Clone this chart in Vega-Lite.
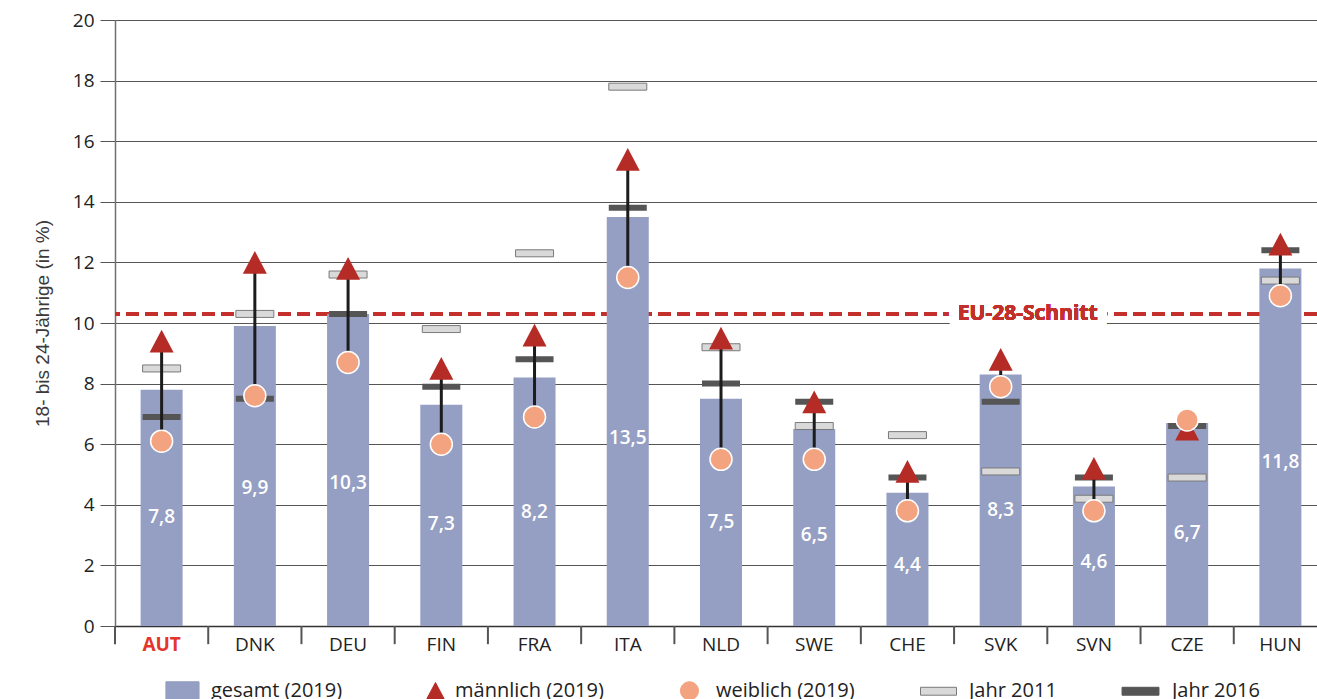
{
  "$schema": "https://vega.github.io/schema/vega-lite/v6.json",
  "width": 1202,
  "height": 606,
  "autosize": "none",
  "padding": {"left": 115, "top": 20, "right": 0, "bottom": 73},
  "config": {
    "view": {"stroke": null},
    "locale": {"number": {"decimal": ",", "thousands": ".", "grouping": [3], "currency": ["", " €"]}},
    "font": "Open Sans",
    "axisX": {
      "domainColor": "#333333", "domainWidth": 1.5, "ticks": false,
      "labelFontSize": 19, "labelPadding": 9, "labelFont": "Open Sans", "labelAngle": 0, "labelColor": "#222222", "grid": false, "title": null
    },
    "axisY": {
      "domainColor": "#707070", "domainWidth": 1.5, "tickColor": "#555555", "tickSize": 15, "tickWidth": 1,
      "labelFontSize": 19, "labelPadding": 6, "labelColor": "#222222", "labelFont": "Open Sans",
      "grid": true, "gridColor": "#555555", "gridWidth": 1,
      "titleFont": "Liberation Sans", "titleFontSize": 19, "titleFontWeight": "normal", "titleColor": "#3a3a3a", "titlePadding": 20
    }
  },
  "data": {
    "values": [
      {"land": "AUT", "gesamt": 7.8, "m": 9.4, "w": 6.1, "j2011": 8.5, "j2016": 6.9},
      {"land": "DNK", "gesamt": 9.9, "m": 12.0, "w": 7.6, "j2011": 10.3, "j2016": 7.5},
      {"land": "DEU", "gesamt": 10.3, "m": 11.8, "w": 8.7, "j2011": 11.6, "j2016": 10.3},
      {"land": "FIN", "gesamt": 7.3, "m": 8.5, "w": 6.0, "j2011": 9.8, "j2016": 7.9},
      {"land": "FRA", "gesamt": 8.2, "m": 9.6, "w": 6.9, "j2011": 12.3, "j2016": 8.8},
      {"land": "ITA", "gesamt": 13.5, "m": 15.4, "w": 11.5, "j2011": 17.8, "j2016": 13.8},
      {"land": "NLD", "gesamt": 7.5, "m": 9.5, "w": 5.5, "j2011": 9.2, "j2016": 8.0},
      {"land": "SWE", "gesamt": 6.5, "m": 7.4, "w": 5.5, "j2011": 6.6, "j2016": 7.4},
      {"land": "CHE", "gesamt": 4.4, "m": 5.1, "w": 3.8, "j2011": 6.3, "j2016": 4.9},
      {"land": "SVK", "gesamt": 8.3, "m": 8.8, "w": 7.9, "j2011": 5.1, "j2016": 7.4},
      {"land": "SVN", "gesamt": 4.6, "m": 5.2, "w": 3.8, "j2011": 4.2, "j2016": 4.9},
      {"land": "CZE", "gesamt": 6.7, "m": 6.5, "w": 6.8, "j2011": 4.9, "j2016": 6.6},
      {"land": "HUN", "gesamt": 11.8, "m": 12.6, "w": 10.9, "j2011": 11.4, "j2016": 12.4}
    ]
  },
  "layer": [
    {
      "layer": [
        {
          "mark": {"type": "rule", "color": "#c3302b", "strokeWidth": 3, "strokeDash": [13, 6]},
          "encoding": {"y": {"datum": 10.3, "type": "quantitative"}}
        },
        {
          "mark": {"type": "text", "text": "EU-28-Schnitt", "fontSize": 21, "fontWeight": "bold", "font": "Open Sans", "fill": "white", "stroke": "white", "strokeWidth": 20, "strokeJoin": "round", "align": "center", "baseline": "middle", "dx": 27},
          "encoding": {"x": {"datum": "SVK", "type": "nominal"}, "y": {"datum": 10.3, "type": "quantitative"}}
        },
        {
          "mark": {"type": "text", "text": "EU-28-Schnitt", "fontSize": 21, "fontWeight": "bold", "font": "Open Sans", "fill": "#c3302b", "align": "center", "baseline": "middle", "dx": 27},
          "encoding": {"x": {"datum": "SVK", "type": "nominal"}, "y": {"datum": 10.3, "type": "quantitative"}}
        },
        {
          "mark": {"type": "bar", "color": "#959ec3", "width": 42},
          "encoding": {
            "x": {
              "field": "land", "type": "nominal", "sort": null, "title": null,
              "scale": {"domain": ["AUT", "DNK", "DEU", "FIN", "FRA", "ITA", "NLD", "SWE", "CHE", "SVK", "SVN", "CZE", "HUN"], "paddingInner": 0, "paddingOuter": 0, "range": [0, 1212]},
              "axis": {
                "labelColor": {"condition": {"test": "datum.value === 'AUT'", "value": "#e3352c"}, "value": "#222222"},
                "labelFontWeight": {"condition": {"test": "datum.value === 'AUT'", "value": "bold"}, "value": "normal"}
              }
            },
            "y": {
              "field": "gesamt", "type": "quantitative", "title": "18- bis 24-Jährige (in %)",
              "scale": {"domain": [0, 20], "nice": false},
              "axis": {"title": "18- bis 24-Jährige (in %)", "values": [0, 2, 4, 6, 8, 10, 12, 14, 16, 18, 20]}
            }
          }
        },
        {
          "mark": {"type": "rule", "color": "#555555", "strokeWidth": 2},
          "encoding": {
            "x": {"field": "land", "type": "nominal", "sort": null, "bandPosition": 0},
            "y": {"datum": 0, "type": "quantitative"},
            "y2": {"datum": -0.6}
          }
        },
        {
          "mark": {"type": "tick", "size": 38, "thickness": 7, "fill": "#d9d9d9", "stroke": "#7a7a7a", "strokeWidth": 1, "opacity": 1},
          "encoding": {
            "x": {"field": "land", "type": "nominal", "sort": null},
            "y": {"field": "j2011", "type": "quantitative"}
          }
        },
        {
          "mark": {"type": "tick", "size": 38, "thickness": 6, "fill": "#555555", "strokeWidth": 0, "opacity": 1},
          "encoding": {
            "x": {"field": "land", "type": "nominal", "sort": null},
            "y": {"field": "j2016", "type": "quantitative"}
          }
        },
        {
          "mark": {"type": "rule", "color": "#1c1c1c", "strokeWidth": 3},
          "encoding": {
            "x": {"field": "land", "type": "nominal", "sort": null},
            "y": {"field": "m", "type": "quantitative"},
            "y2": {"field": "w"}
          }
        },
        {
          "mark": {"type": "point", "shape": "M0,-0.95L1,0.95H-1Z", "size": 576, "filled": true, "fill": "#b52b26", "opacity": 1},
          "encoding": {
            "x": {"field": "land", "type": "nominal", "sort": null},
            "y": {"field": "m", "type": "quantitative"}
          }
        },
        {
          "mark": {"type": "point", "shape": "circle", "size": 484, "filled": true, "fill": "#f3a37f", "stroke": "white", "strokeWidth": 1.5, "opacity": 1},
          "encoding": {
            "x": {"field": "land", "type": "nominal", "sort": null},
            "y": {"field": "w", "type": "quantitative"}
          }
        },
        {
          "data": {"values": []},
          "mark": {"type": "point", "filled": true, "opacity": 1},
          "encoding": {
            "fill": {
              "field": "serie", "type": "nominal",
              "scale": {
                "domain": ["gesamt (2019)", "männlich (2019)", "weiblich (2019)", "Jahr 2011", "Jahr 2016"],
                "range": ["#959ec3", "#b52b26", "#f3a37f", "#d9d9d9", "#555555"]
              },
              "legend": {
                "orient": "none", "legendX": 47, "legendY": 652, "direction": "horizontal", "columns": 5,
                "title": null, "symbolSize": 1296, "labelFontSize": 20, "labelFont": "Open Sans", "labelColor": "#222222",
                "labelOffset": 12, "columnPadding": 63, "padding": 0, "symbolStrokeWidth": 1, "symbolOpacity": 1
              }
            },
            "stroke": {
              "field": "serie", "type": "nominal",
              "scale": {
                "domain": ["gesamt (2019)", "männlich (2019)", "weiblich (2019)", "Jahr 2011", "Jahr 2016"],
                "range": ["#959ec3", "#b52b26", "#f3a37f", "#7a7a7a", "#555555"]
              }
            },
            "shape": {
              "field": "serie", "type": "nominal",
              "scale": {
                "domain": ["gesamt (2019)", "männlich (2019)", "weiblich (2019)", "Jahr 2011", "Jahr 2016"],
                "range": [
                  "M-0.81,-0.5H1.03V0.5H-0.81Z",
                  "M0.61,-0.47L1.11,0.47H0.11Z",
                  "M0.72,0A0.5,0.5,0,1,1,-0.28,0A0.5,0.5,0,1,1,0.72,0Z",
                  "M-1.0,-0.22H1.0V0.22H-1.0Z",
                  "M-1.08,-0.22H0.97V0.22H-1.08Z"
                ]
              }
            }
          }
        }
      ]
    },
    {
      "mark": {"type": "text", "color": "white", "fontSize": 19, "fontWeight": 600, "font": "Open Sans", "align": "center", "baseline": "middle"},
      "encoding": {
        "x": {"field": "land", "type": "nominal", "sort": null},
        "y": {"field": "gesamt", "type": "quantitative", "scale": {"domain": [0, 43.5], "nice": false}, "axis": null},
        "text": {"field": "gesamt", "type": "quantitative", "format": ".1f"}
      }
    }
  ],
  "resolve": {"scale": {"y": "independent"}}
}
